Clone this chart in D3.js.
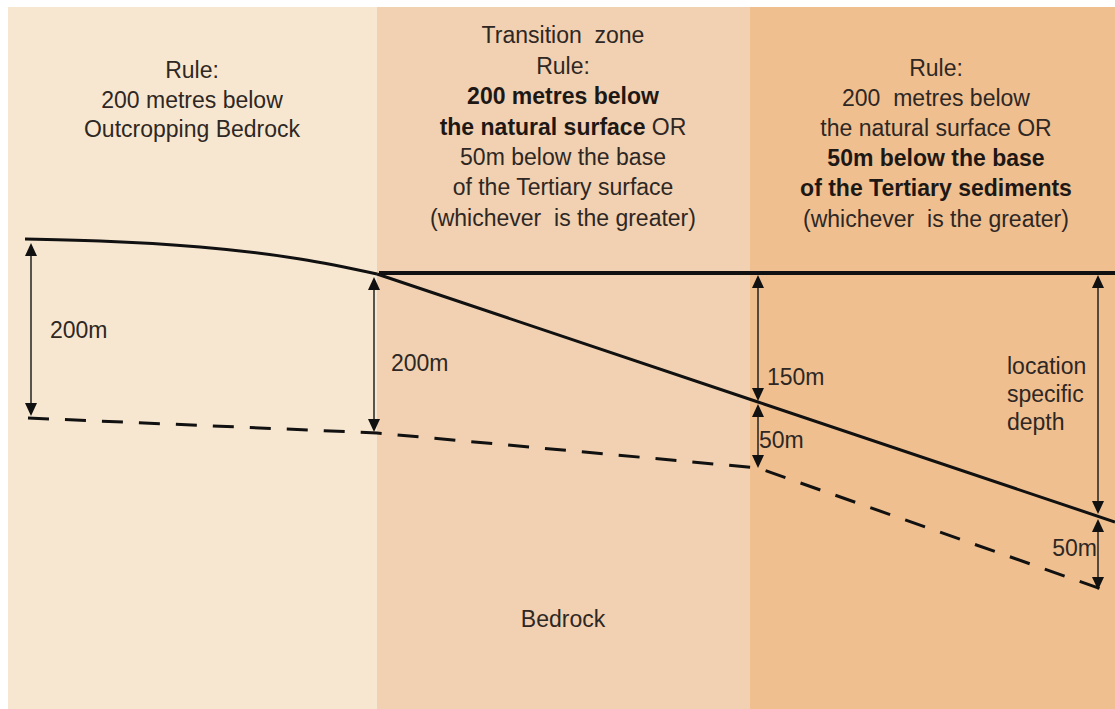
<!DOCTYPE html>
<html>
    <style>
        body { margin: 0; background: #ffffff; }
        svg { display: block; }
        .label { font-family: "Liberation Sans", Arial, sans-serif; font-size: 23px; fill: #2e2724; }
        .bold { font-weight: bold; fill: #1e1815; }
    </style>
    <script src="https://d3js.org/d3.v7.min.js"></script>
    <body onload="main()">
        <svg></svg>
    </body>
    <script>
        // Zones (left edge / right edge in the diagram frame) and fills
        const zoneEdges = [8, 377, 750, 1115]
        const zoneColours = ["#f8e7d0", "#f1d1b1", "#efbf90"]

        // Natural surface: curved outcrop over the bedrock zone
        const outcropX = [25, 100, 200, 300, 377]
        const outcropY = [239, 241, 247, 259, 274]
        // ...then the straight base of the Tertiary sediments
        const slopeX = [377, 758, 1115]
        const slopeY = [274, 402, 522]

        // Top of the Tertiary sediments (flat)
        const tertiaryX = [379, 1115]
        const tertiaryY = [273, 273]

        // Depth limit (dashed)
        const limitX = [28, 377, 758, 1107]
        const limitY = [418, 433, 468, 591]

        // Dimension arrows (double headed)
        const arrowX = [31, 374, 758, 758, 1098, 1098]
        const arrowTop = [243, 277, 275, 404, 275, 519]
        const arrowBottom = [416, 432, 401, 468, 514, 590]

        // Text blocks: each line is a list of [text, bold]
        const zoneTexts = [
            {cx: 192, baselines: [78, 108, 137], lines: [
                [["Rule:", 0]],
                [["200 metres below", 0]],
                [["Outcropping Bedrock", 0]]
            ]},
            {cx: 563, baselines: [43, 74, 104, 135, 165, 195, 226], lines: [
                [["Transition  zone", 0]],
                [["Rule:", 0]],
                [["200 metres below", 1]],
                [["the natural surface", 1], [" OR", 0]],
                [["50m below the base", 0]],
                [["of the Tertiary surface", 0]],
                [["(whichever  is the greater)", 0]]
            ]},
            {cx: 936, baselines: [76, 106, 136, 166, 196, 227], lines: [
                [["Rule:", 0]],
                [["200  metres below", 0]],
                [["the natural surface OR", 0]],
                [["50m below the base", 1]],
                [["of the Tertiary sediments", 1]],
                [["(whichever  is the greater)", 0]]
            ]}
        ]

        // Dimension labels
        const labelText = ["200m", "200m", "150m", "50m", "location", "specific", "depth", "50m", "Bedrock"]
        const labelX = [50, 391, 767, 759, 1007, 1007, 1007, 1097, 563]
        const labelY = [338, 371, 385, 448, 374, 402, 430, 556, 627]
        const labelAnchor = ["start", "start", "start", "start", "start", "start", "start", "end", "middle"]

        function main() {
            var width = 1115
            var height = 709
            var svg = d3.select("svg").attr("width", width).attr("height", height)

            var x = d3.scaleLinear().domain([0, 1115]).range([0, width])
            var y = d3.scaleLinear().domain([0, 709]).range([0, height])

            // Zone backgrounds
            svg.append("g")
                .selectAll("rect")
                .data(zoneColours)
                .enter()
                .append("rect")
                .attr("x", (d, i) => x(zoneEdges[i]))
                .attr("y", y(7))
                .attr("width", (d, i) => x(zoneEdges[i + 1]) - x(zoneEdges[i]))
                .attr("height", y(709) - y(7))
                .style("fill", d => d)

            // Dashed depth limit
            var limitLine = d3.line()
                .x((d, i) => x(limitX[i]))
                .y(d => y(d))
            svg.append("path")
                .datum(limitY)
                .attr("d", limitLine)
                .style("fill", "none")
                .style("stroke", "#111")
                .style("stroke-width", 3)
                .style("stroke-dasharray", "21 16")

            // Flat top of Tertiary
            svg.append("path")
                .datum(tertiaryY)
                .attr("d", d3.line().x((d, i) => x(tertiaryX[i])).y(d => y(d)))
                .style("fill", "none")
                .style("stroke", "#111")
                .style("stroke-width", 4)

            // Natural surface (curve) + sloping base of Tertiary (straight)
            svg.append("path")
                .datum(outcropY)
                .attr("d", d3.line().x((d, i) => x(outcropX[i])).y(d => y(d)).curve(d3.curveNatural))
                .style("fill", "none")
                .style("stroke", "#111")
                .style("stroke-width", 3)
            svg.append("path")
                .datum(slopeY)
                .attr("d", d3.line().x((d, i) => x(slopeX[i])).y(d => y(d)))
                .style("fill", "none")
                .style("stroke", "#111")
                .style("stroke-width", 3)

            // Dimension arrows
            var arrows = svg.append("g")
            var head = 13, half = 6
            arrowX.forEach((ax, i) => {
                var px = x(ax), t = y(arrowTop[i]), b = y(arrowBottom[i])
                arrows.append("line")
                    .attr("x1", px).attr("x2", px)
                    .attr("y1", t + head - 2).attr("y2", b - head + 2)
                    .style("stroke", "#222")
                    .style("stroke-width", 1.5)
                arrows.append("path")
                    .attr("d", "M" + px + "," + t + "L" + (px - half) + "," + (t + head) + "L" + (px + half) + "," + (t + head) + "Z")
                    .style("fill", "#111")
                arrows.append("path")
                    .attr("d", "M" + px + "," + b + "L" + (px - half) + "," + (b - head) + "L" + (px + half) + "," + (b - head) + "Z")
                    .style("fill", "#111")
            })

            // Zone headings
            zoneTexts.forEach(block => {
                block.lines.forEach((line, j) => {
                    var t = svg.append("text")
                        .attr("class", "label")
                        .attr("x", x(block.cx))
                        .attr("y", y(block.baselines[j]))
                        .attr("text-anchor", "middle")
                    line.forEach(seg => {
                        t.append("tspan")
                            .attr("class", seg[1] ? "bold" : null)
                            .style("white-space", "pre")
                            .text(seg[0])
                    })
                })
            })

            // Dimension labels
            svg.append("g")
                .selectAll("text")
                .data(labelText)
                .enter()
                .append("text")
                .attr("class", "label")
                .attr("x", (d, i) => x(labelX[i]))
                .attr("y", (d, i) => y(labelY[i]))
                .attr("text-anchor", (d, i) => labelAnchor[i])
                .text(d => d)
        }
    </script>
</html>
